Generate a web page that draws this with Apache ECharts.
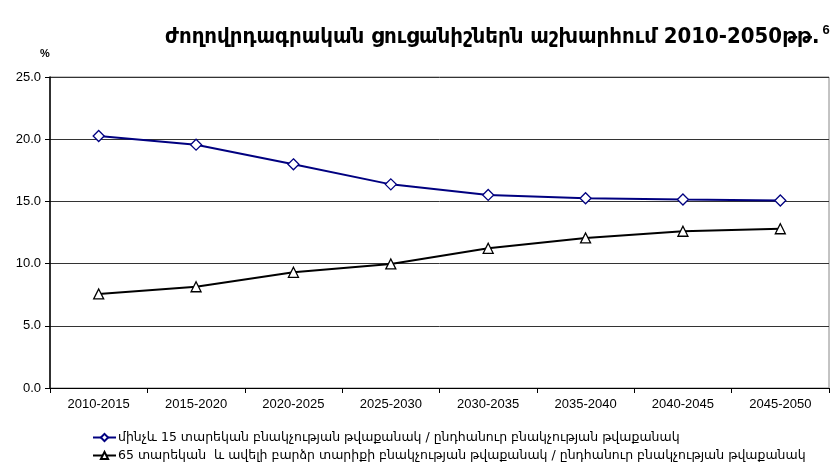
<!DOCTYPE html>
<html>
<head>
<meta charset="utf-8">
<script src="https://cdn.jsdelivr.net/npm/echarts@6/dist/echarts.min.js"></script>
<style>html,body{margin:0;padding:0;background:#fff}#c{width:830px;height:465px}</style>
</head>
<body>
<div id="c"></div>
<script>
const categories = ['2010-2015','2015-2020','2020-2025','2025-2030','2030-2035','2035-2040','2040-2045','2045-2050'];
const under15 = [20.26, 19.56, 17.98, 16.37, 15.52, 15.25, 15.15, 15.07];
const over65 = [7.56, 8.14, 9.30, 9.97, 11.23, 12.06, 12.60, 12.80];
const yTicks = [0, 5, 10, 15, 20, 25];
const seriesNames = [
  'մինչև 15 տարեկան բնակչության թվաքանակ / ընդհանուր բնակչության թվաքանակ',
  '65 տարեկան  և ավելի բարձր տարիքի բնակչության թվաքանակ / ընդհանուր բնակչության թվաքանակ'
];
const titleText = 'ժողովրդագրական ցուցանիշներն աշխարհում 2010-2050թթ.';

const legendBase = {
  orient: 'horizontal',
  left: 87,
  itemWidth: 23,
  itemHeight: 9,
  textStyle: { fontFamily: 'DejaVu Sans', fontSize: 12.5, color: '#000', padding: [0,0,0,-3] }
};

const chart = echarts.init(document.getElementById('c'), null, {renderer: 'canvas'});
chart.setOption({
  animation: false,
  backgroundColor: '#fff',
  title: {
    text: titleText + '{s|6}',
    left: 160,
    top: 19,
    textStyle: {
      fontFamily: 'DejaVu Sans Condensed',
      fontWeight: 'bold',
      fontSize: 22,
      color: '#000',
      rich: { s: { fontSize: 13, fontWeight: 'bold', fontFamily: 'Liberation Sans', verticalAlign: 'top', padding: [0,0,14,3] } }
    }
  },
  graphic: [{
    type: 'text', left: 40, top: 48,
    style: { text: '%', font: 'bold 11px "Liberation Sans"', fill: '#000' }
  }, {
    type: 'rect', shape: {x: 50, y: 77, width: 779, height: 311},
    style: { fill: 'none', stroke: '#888', lineWidth: 1 }, z: 0
  }],
  legend: [
    Object.assign({}, legendBase, { top: 426, data: [seriesNames[0]] }),
    Object.assign({}, legendBase, { top: 444, data: [seriesNames[1]] })
  ],
  grid: { left: 50, right: 1, top: 77, bottom: 77, containLabel: false },
  xAxis: {
    type: 'category',
    data: categories,
    boundaryGap: true,
    axisLine: { lineStyle: { color: '#000', width: 1 } },
    axisTick: { show: true, inside: false, length: 5, lineStyle: { color: '#000' } },
    axisLabel: { fontFamily: 'Liberation Sans', fontSize: 13, color: '#000', margin: 10 },
    splitLine: { show: false }
  },
  yAxis: {
    type: 'value',
    min: 0, max: 25, interval: 5,
    axisLine: { show: true, lineStyle: { color: '#000', width: 1.5 } },
    axisTick: { show: true, length: 5, lineStyle: { color: '#000' } },
    axisLabel: { fontFamily: 'Liberation Sans', fontSize: 13, color: '#000', margin: 9,
      formatter: v => yTicks.includes(v) ? v.toFixed(1) : '' },
    splitLine: { show: true, lineStyle: { color: '#333', width: 1 } }
  },
  series: [{
    name: seriesNames[0],
    type: 'line',
    data: under15,
    symbol: 'diamond',
    symbolSize: 11,
    itemStyle: { color: '#fff', borderColor: '#000080', borderWidth: 1.3 },
    lineStyle: { color: '#000080', width: 2 },
    z: 3
  }, {
    name: seriesNames[1],
    type: 'line',
    data: over65,
    symbol: 'triangle',
    symbolSize: 10,
    itemStyle: { color: '#fff', borderColor: '#000', borderWidth: 1.3 },
    lineStyle: { color: '#000', width: 2 },
    z: 3
  }]
});
</script>
</body>
</html>
